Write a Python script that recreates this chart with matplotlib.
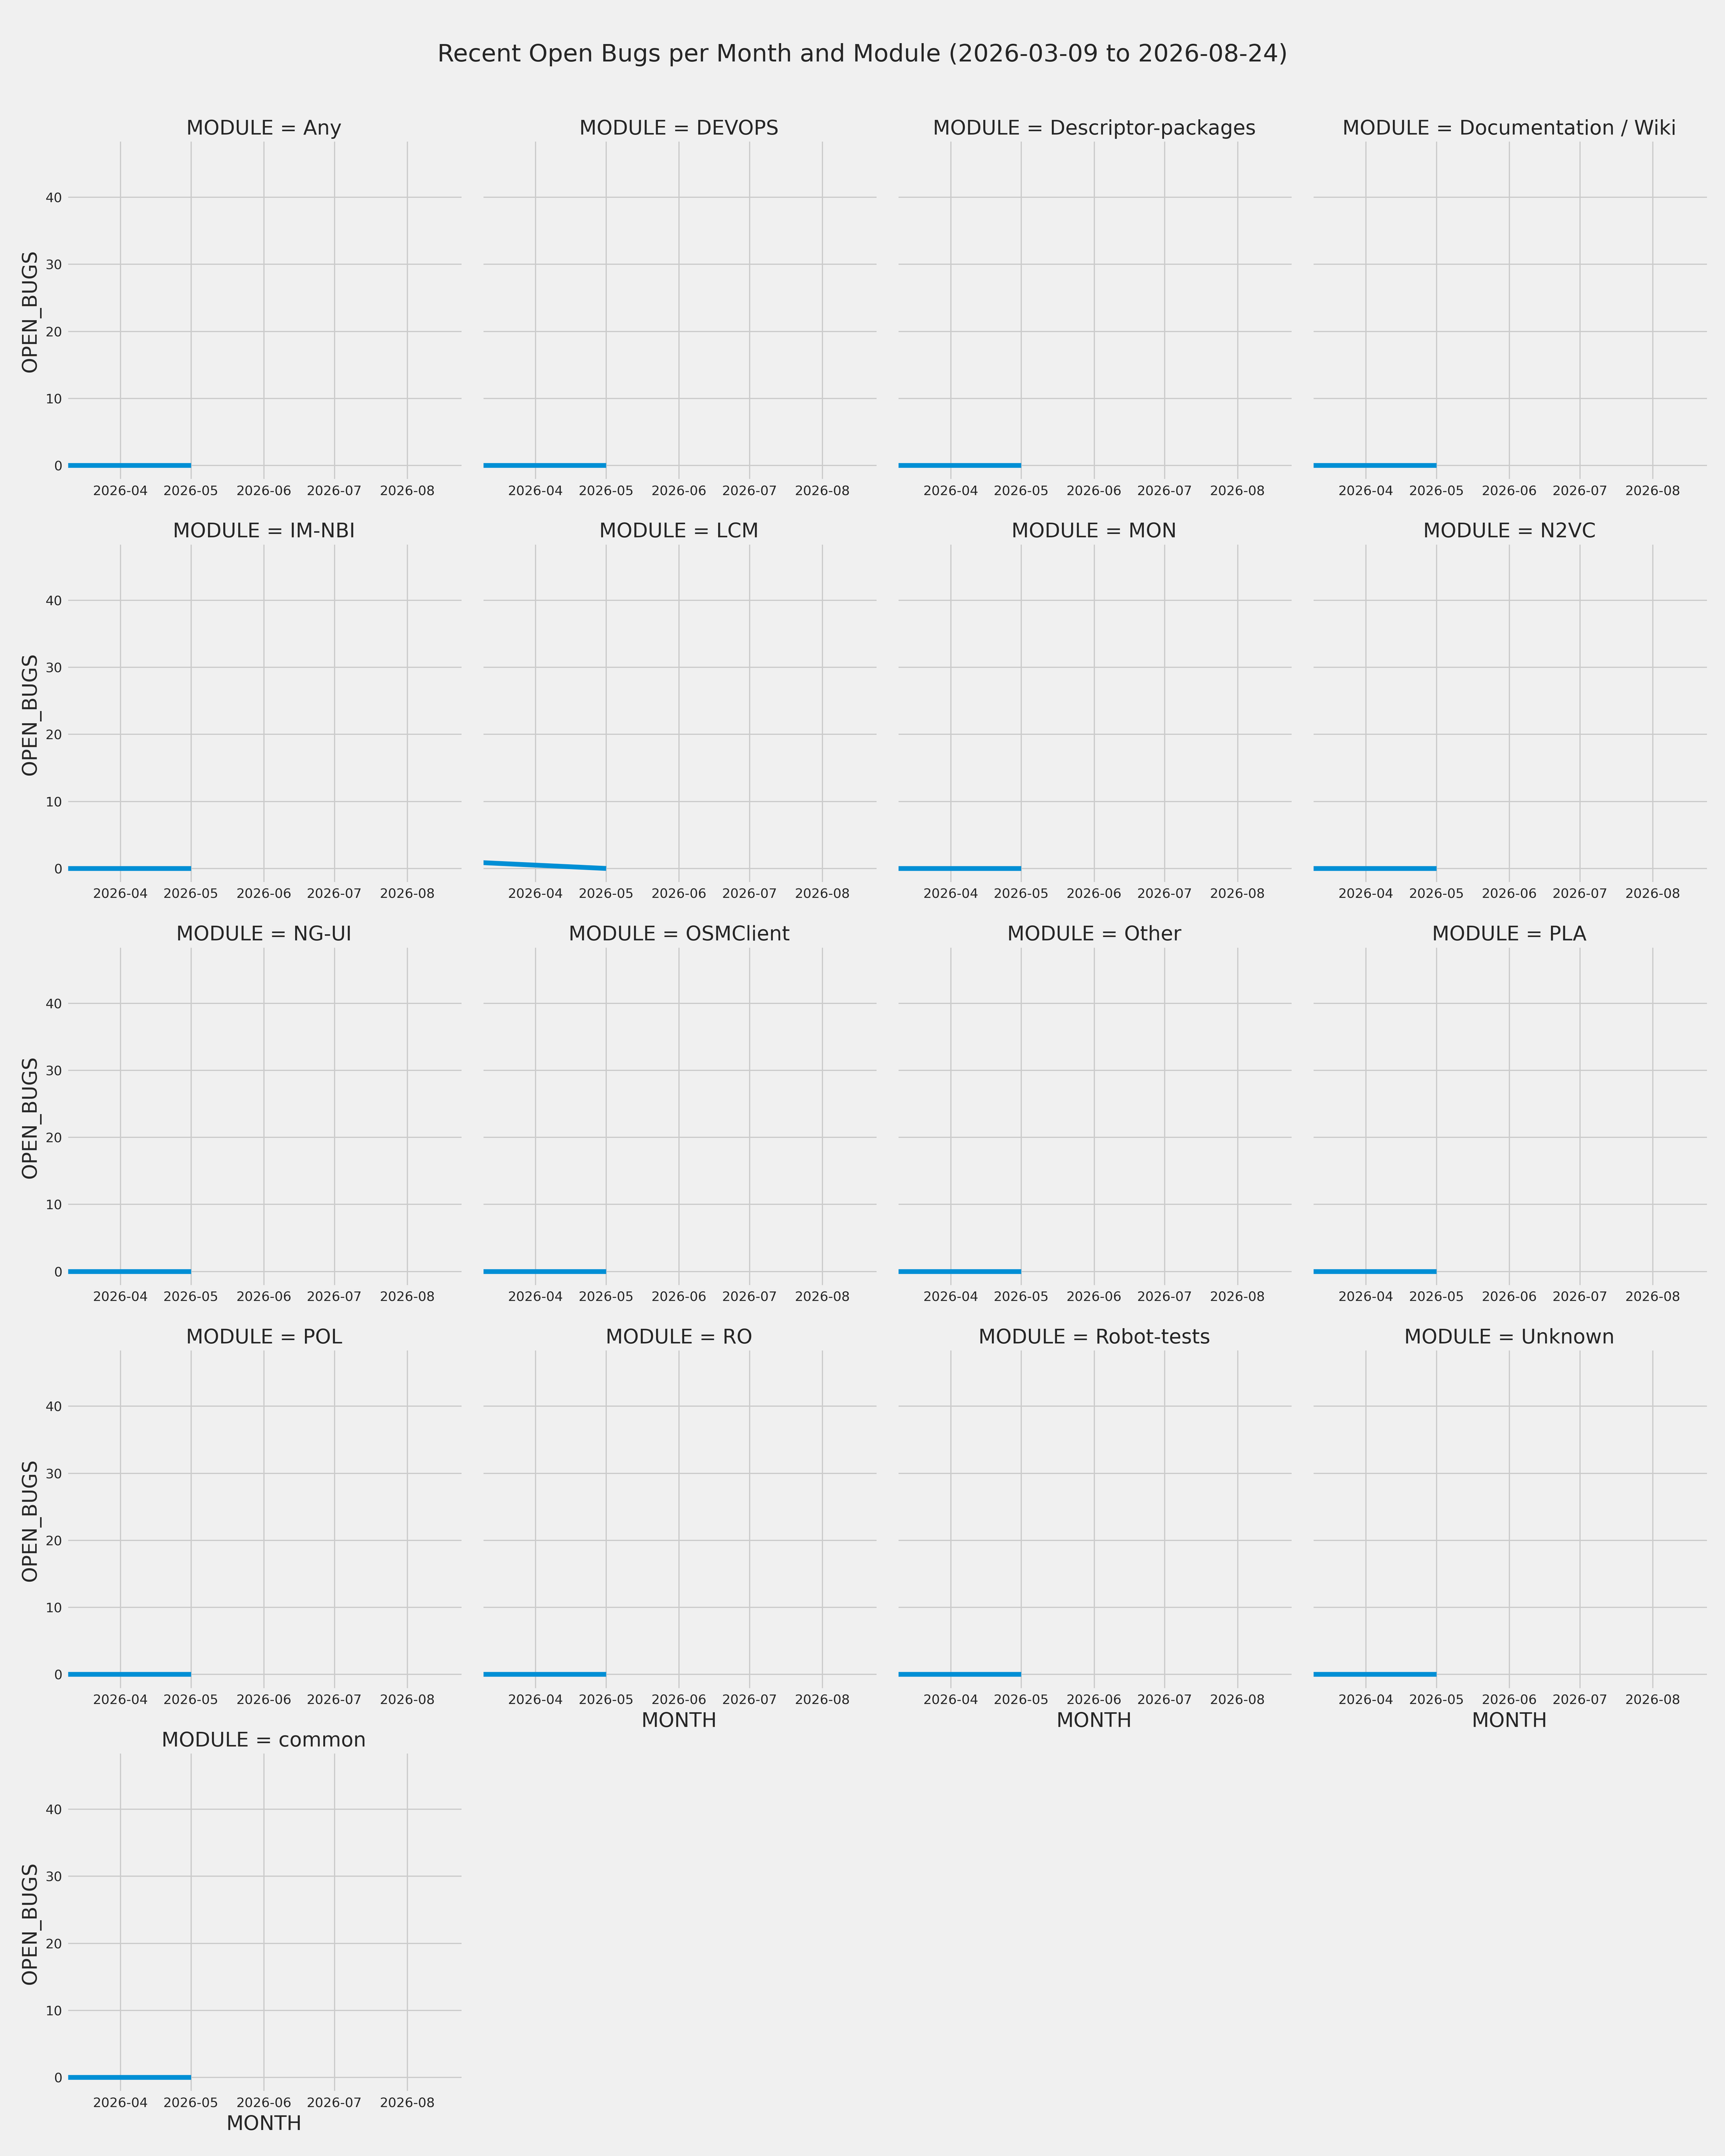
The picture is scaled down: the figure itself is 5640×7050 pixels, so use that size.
import matplotlib
matplotlib.use("Agg")
import matplotlib.pyplot as plt
import matplotlib.dates as mdates
import pandas as pd
import seaborn as sns

plt.style.use("fivethirtyeight")
plt.rcParams["font.family"] = ["DejaVu Sans"]
plt.rcParams["xtick.labelsize"] = 11
plt.rcParams["ytick.labelsize"] = 11
plt.rcParams["text.color"] = ".15"
plt.rcParams["axes.labelcolor"] = ".15"
plt.rcParams["xtick.color"] = ".15"
plt.rcParams["ytick.color"] = ".15"

# ---- data ----
modules = ["Any", "DEVOPS", "Descriptor-packages", "Documentation / Wiki",
           "IM-NBI", "LCM", "MON", "N2VC",
           "NG-UI", "OSMClient", "Other", "PLA",
           "POL", "RO", "Robot-tests", "Unknown",
           "common"]
months = ["2026-03-01", "2026-05-01"]
bugs_2026_03 = [0, 0, 0, 0, 0, 1, 0, 0, 0, 0, 0, 0, 0, 0, 0, 0, 0]
bugs_2026_05 = [0, 0, 0, 0, 0, 0, 0, 0, 0, 0, 0, 0, 0, 0, 0, 0, 0]
period_start = "2026-03-09"
period_end = "2026-08-24"

rows = []
for m, a, b in zip(modules, bugs_2026_03, bugs_2026_05):
    rows.append({"MONTH": pd.Timestamp(months[0]), "MODULE": m, "OPEN_BUGS": a})
    rows.append({"MONTH": pd.Timestamp(months[1]), "MODULE": m, "OPEN_BUGS": b})
df = pd.DataFrame(rows)

g = sns.relplot(data=df, x="MONTH", y="OPEN_BUGS", col="MODULE",
                col_order=modules, col_wrap=4, kind="line",
                height=5, aspect=1)
g.set_titles("{col_var} = {col_name}")
g.set(xlim=(pd.Timestamp(period_start), pd.Timestamp(period_end)),
      ylim=(-2.3, 48.3))
for ax in g.axes.flat:
    ax.xaxis.set_major_locator(mdates.MonthLocator())
    ax.xaxis.set_major_formatter(mdates.DateFormatter("%Y-%m"))
    ax.tick_params(labelbottom=True)

g.figure.subplots_adjust(left=0.0385, right=0.9895, top=0.9343,
                         bottom=0.0293, wspace=0.051, hspace=0.188)
g.figure.suptitle(f"Recent Open Bugs per Month and Module ({period_start} to {period_end})",
                  fontsize="x-large", y=0.98)
g.figure.savefig("out.png", dpi=282)
